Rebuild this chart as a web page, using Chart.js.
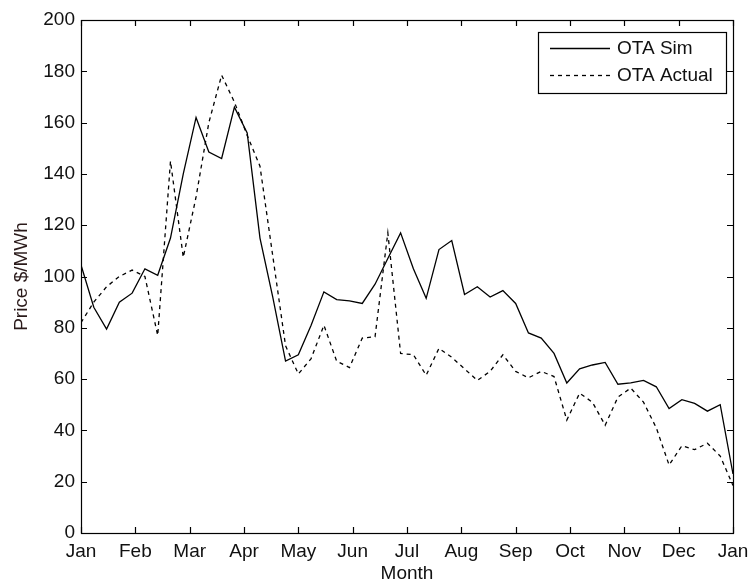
<!DOCTYPE html>
<html>
<head>
<meta charset="utf-8">
<title>OTA price: simulated vs actual</title>
<script src="https://cdn.jsdelivr.net/npm/chart.js@4.4.1/dist/chart.umd.min.js"></script>
<style>
  html, body { margin: 0; padding: 0; background: #ffffff; }
  #wrap { width: 751px; height: 585px; }
</style>
</head>
<body>
<div id="wrap"><canvas id="chart" width="751" height="585"></canvas></div>
<script>
// Month labels along the year axis (one tick per month, year wraps back to Jan)
const monthLabels = ['Jan', 'Feb', 'Mar', 'Apr', 'May', 'Jun', 'Jul', 'Aug', 'Sep', 'Oct', 'Nov', 'Dec', 'Jan'];

// Weekly OTA price, $/MWh
const otaSim = [
  104.5, 88, 79.5, 90, 93.5, 103, 100.5, 115, 140, 162,
  148.5, 146, 166, 156, 115, 92, 67, 69.5, 81, 94,
  91, 90.5, 89.5, 97, 107, 117, 103, 91.5, 110.5, 114,
  93, 96, 92, 94.5, 89.5, 78, 76, 70, 58.5, 64,
  65.5, 66.5, 58, 58.5, 59.5, 57, 48.5, 52, 50.5, 47.5,
  50, 23
];
const otaActual = [
  82, 90, 96, 100, 102.5, 100, 77, 145, 107.5, 131,
  160, 178.5, 168, 155, 143, 108, 73, 62, 68, 81,
  67, 64.5, 76, 76.5, 117, 70, 69.5, 61.5, 72, 68.5,
  64, 59.5, 63, 69.5, 63, 60.5, 63, 61, 44, 54.5,
  51, 42, 53, 56.5, 51, 41, 26.5, 34, 32.5, 35,
  30, 18.5
];

const yTicks = { min: 0, max: 200, step: 20 };

const FONT = '"Liberation Sans", Arial, sans-serif';
const FONT_SIZE = 19;
const INK = '#111111';

// Spread the weekly observations evenly across the 12-month axis
function toPoints(values) {
  const n = values.length - 1;
  return values.map((v, i) => ({ x: (i * 12) / n, y: v }));
}

// Axis box with inward ticks on all four sides, plus an in-plot legend
const frameAndLegend = {
  id: 'frameAndLegend',
  afterDatasetsDraw(chart) {
    const { ctx, chartArea: a, scales } = chart;
    const xs = scales.x, ys = scales.y;
    const tick = 6;
    ctx.save();
    ctx.strokeStyle = '#000000';
    ctx.lineWidth = 1.2;
    ctx.strokeRect(Math.round(a.left) + 0.5, Math.round(a.top) + 0.5,
                   Math.round(a.right - a.left), Math.round(a.bottom - a.top));
    ctx.beginPath();
    xs.ticks.forEach(t => {
      const px = Math.round(xs.getPixelForValue(t.value)) + 0.5;
      ctx.moveTo(px, a.bottom); ctx.lineTo(px, a.bottom - tick);
      ctx.moveTo(px, a.top); ctx.lineTo(px, a.top + tick);
    });
    ys.ticks.forEach(t => {
      const py = Math.round(ys.getPixelForValue(t.value)) + 0.5;
      ctx.moveTo(a.left, py); ctx.lineTo(a.left + tick, py);
      ctx.moveTo(a.right, py); ctx.lineTo(a.right - tick, py);
    });
    ctx.stroke();

    // legend box
    const box = { x: 538, y: 32, w: 188, h: 61 };
    ctx.fillStyle = '#ffffff';
    ctx.fillRect(box.x, box.y, box.w, box.h);
    ctx.lineWidth = 1.2;
    ctx.strokeRect(box.x + 0.5, box.y + 0.5, box.w, box.h);
    ctx.font = FONT_SIZE + 'px ' + FONT;
    ctx.textBaseline = 'middle';
    ctx.textAlign = 'left';
    chart.data.datasets.forEach((ds, i) => {
      const rowY = box.y + 16 + i * 27;
      ctx.beginPath();
      ctx.strokeStyle = ds.borderColor;
      ctx.lineWidth = ds.borderWidth;
      ctx.setLineDash(ds.borderDash || []);
      ctx.moveTo(box.x + 12, rowY + 0.5);
      ctx.lineTo(box.x + 72, rowY + 0.5);
      ctx.stroke();
      ctx.setLineDash([]);
      ctx.fillStyle = INK;
      ctx.fillText(ds.label, box.x + 79, rowY + 1);
    });
    ctx.restore();
  }
};

new Chart(document.getElementById('chart'), {
  type: 'line',
  data: {
    datasets: [
      {
        label: 'OTA Sim',
        data: toPoints(otaSim),
        borderColor: '#000000',
        borderWidth: 1.3,
        pointRadius: 0,
        tension: 0,
        fill: false
      },
      {
        label: 'OTA Actual',
        data: toPoints(otaActual),
        borderColor: '#000000',
        borderWidth: 1.3,
        borderDash: [4, 4],
        pointRadius: 0,
        tension: 0,
        fill: false
      }
    ]
  },
  options: {
    responsive: false,
    animation: false,
    devicePixelRatio: 1,
    layout: { padding: { top: 20, right: 18, left: 0, bottom: 0 } },
    plugins: {
      legend: { display: false },
      tooltip: { enabled: false }
    },
    scales: {
      x: {
        type: 'linear',
        min: 0,
        max: 12,
        grid: { display: false, drawTicks: false },
        border: { display: false },
        ticks: {
          stepSize: 1,
          autoSkip: false,
          maxRotation: 0,
          padding: 7,
          color: INK,
          font: { family: FONT, size: FONT_SIZE },
          callback: v => monthLabels[v]
        },
        title: {
          display: true,
          text: 'Month',
          color: INK,
          padding: { top: 0, bottom: 0 },
          font: { family: FONT, size: FONT_SIZE }
        },
        afterFit: s => { s.height = 52; s.paddingLeft = 0; s.paddingRight = 0; }
      },
      y: {
        min: yTicks.min,
        max: yTicks.max,
        grid: { display: false, drawTicks: false },
        border: { display: false },
        ticks: {
          stepSize: yTicks.step,
          padding: 6,
          color: INK,
          font: { family: FONT, size: FONT_SIZE }
        },
        title: {
          display: true,
          text: 'Price $/MWh',
          color: '#2a1a1a',
          padding: { top: 10, bottom: 0 },
          font: { family: FONT, size: FONT_SIZE }
        },
        afterFit: s => { s.width = 81; s.paddingTop = 0; s.paddingBottom = 0; }
      }
    }
  },
  plugins: [frameAndLegend]
});
</script>
</body>
</html>
